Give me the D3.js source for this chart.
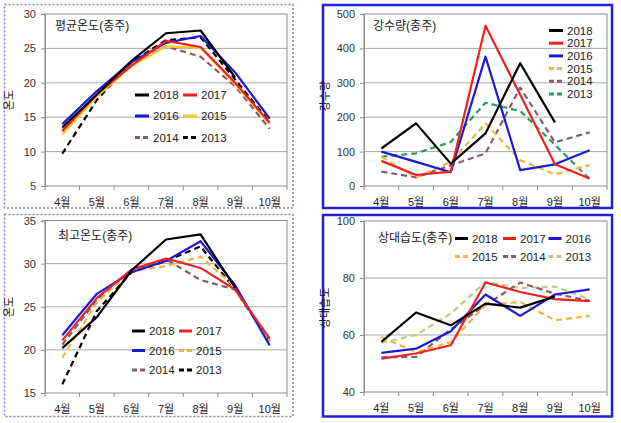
<!DOCTYPE html>
<html><head><meta charset="utf-8">
<script src="https://cdn.jsdelivr.net/npm/d3@7"></script>
<style>
body{margin:0;background:#fff;}
text{font-family:"Liberation Sans","Noto Sans CJK KR",sans-serif;}
</style></head>
<body><svg id="c" width="621" height="423"></svg>
<script>
const months = ["4월","5월","6월","7월","8월","9월","10월"];
const years = ["2018","2017","2016","2015","2014","2013"];

// 평균온도 (avg temperature), series in years order
const avgTemp = [
  [13.5, 18.3, 23.2, 27.2, 27.6, 20.8, null],
  [13.0, 18.3, 22.5, 26.1, 25.2, 20.0, 14.2],
  [14.0, 18.8, 23.0, 25.8, 26.8, 21.5, 14.8],
  [12.5, 18.0, 22.4, 25.3, 25.1, 19.8, 14.0],
  [13.0, 18.0, 22.8, 25.3, 23.8, 19.5, 13.3],
  [ 9.7, 17.5, 23.0, 26.2, 26.6, 20.5, 14.3]
];
// 강수량 (precipitation)
const precip = [
  [109, 182,  65, 153, 357, 185, null],
  [ 73,  32,  42, 466, 265,  63,  22],
  [100,  70,  40, 376,  46,  63, 104],
  [ 85,  25,  70, 182,  75,  34,  61],
  [ 42,  25,  60,  95, 286, 127, 156],
  [ 85,  95, 128, 242, 218, 120,  20]
];
// 최고온도 (max temperature)
const maxTemp = [
  [20.2, 23.8, 29.2, 32.8, 33.4, 27.2, null],
  [21.1, 26.0, 29.3, 30.6, 29.5, 27.0, 21.3],
  [21.7, 26.5, 29.0, 30.3, 32.6, 27.5, 20.5],
  [19.1, 25.5, 29.2, 29.7, 30.8, 27.3, 21.0],
  [20.6, 25.8, 29.0, 30.5, 28.1, 27.0, 21.2],
  [16.0, 24.5, 29.0, 30.3, 32.0, 27.0, 21.0]
];
// 상대습도 (relative humidity)
const humidity = [
  [57.6, 67.9, 63.4, 71.0, 69.6, 73.5, null],
  [51.7, 53.5, 56.4, 78.4, 75.1, 72.6, 71.9],
  [53.7, 55.2, 61.3, 74.2, 66.7, 74.2, 76.0],
  [59.3, 54.0, 57.5, 70.5, 71.6, 65.2, 66.7],
  [52.2, 52.3, 62.0, 70.5, 78.4, 74.5, 72.0],
  [57.3, 60.0, 67.5, 78.6, 76.5, 77.0, 72.5]
];

const tempTicks1 = [5,10,15,20,25,30];
const precipTicks = [0,100,200,300,400,500];
const tempTicks2 = [15,20,25,30,35];
const humTicks = [40,60,80,100];

const svg = d3.select("#c");

function styleFor(yearIdx, variant){
  const base = [
    {c:"#000000", d:null},
    {c:"#ee2020", d:null},
    {c:"#1a1ad0", d:null},
    {c:"#f2b640", d:"6,4"},
    {c:"#8a5a68", d:"6,4"},
    {c:"#000000", d:"6,4"}
  ][yearIdx];
  const s = Object.assign({}, base);
  if (yearIdx === 5 && variant === "precip") s.c = "#2a9a5a";
  if (yearIdx === 5 && variant === "hum") s.c = "#b9cc88";
  if (yearIdx === 3 && variant === "avg") { s.c = "#f2cc2a"; s.d = null; }
  return s;
}

function panel(o){
  const g = svg.append("g");
  g.append("rect").attr("x", o.bx).attr("y", o.by).attr("width", o.bw).attr("height", o.bh)
    .attr("fill", "none").attr("stroke", o.borderColor).attr("stroke-width", o.borderW)
    .attr("stroke-dasharray", o.borderDash);
  const x = d3.scaleBand().domain(months).range([o.x0, o.x1]);
  const y = d3.scaleLinear().domain(o.domain).range([o.y1, o.y0]);
  g.append("g").selectAll("line").data(o.ticks.slice(1, -1)).join("line")
    .attr("x1", o.x0).attr("x2", o.x1).attr("y1", d => y(d)).attr("y2", d => y(d))
    .attr("stroke", "#a8a8a8").attr("stroke-width", 1);
  g.append("rect").attr("x", o.x0).attr("y", o.y0).attr("width", o.x1 - o.x0).attr("height", o.y1 - o.y0)
    .attr("fill", "none").attr("stroke", "#8c8c8c").attr("stroke-width", 1);
  const ya = g.append("g").attr("transform", `translate(${o.x0},0)`)
    .call(d3.axisLeft(y).tickValues(o.ticks).tickSize(4).tickPadding(5));
  ya.select(".domain").attr("stroke", "#8c8c8c");
  ya.selectAll(".tick line").attr("stroke", "#8c8c8c");
  ya.selectAll("text").attr("font-size", 11).attr("fill", "#333");
  const bTicks = months.map(m => x(m)).concat([o.x1]);
  g.append("g").selectAll("line").data(bTicks).join("line")
    .attr("x1", d => d).attr("x2", d => d).attr("y1", o.y1).attr("y2", o.y1 + 4)
    .attr("stroke", "#8c8c8c");
  g.append("g").selectAll("text").data(months).join("text")
    .attr("x", d => x(d) + x.bandwidth() / 2).attr("y", o.y1 + 20)
    .attr("text-anchor", "middle").attr("font-size", 11).attr("fill", "#222").text(d => d);
  g.append("text").attr("transform", `translate(${o.ytx},${o.yty}) rotate(-90)`)
    .attr("text-anchor", "middle").attr("font-size", 11).attr("fill", "#111").text(o.ytitle);
  g.append("text").attr("x", o.tx).attr("y", o.ty).attr("font-size", 12).attr("fill", "#222").text(o.title);
  const line = d3.line().defined(d => d.v != null)
    .x(d => x(d.m) + x.bandwidth() / 2).y(d => y(d.v));
  for (let i = years.length - 1; i >= 0; i--) {
    const s = styleFor(i, o.variant);
    const pts = months.map((m, j) => ({m, v: o.data[i][j]}));
    g.append("path").datum(pts).attr("d", line).attr("fill", "none")
      .attr("stroke", s.c).attr("stroke-width", 2.2).attr("stroke-dasharray", s.d)
      .attr("stroke-linejoin", "round");
  }
  years.forEach((yr, i) => {
    const p = o.legendPos(i);
    const s = styleFor(i, o.variant);
    g.append("line").attr("x1", p[0]).attr("x2", p[0] + o.legLen).attr("y1", p[1]).attr("y2", p[1])
      .attr("stroke", s.c).attr("stroke-width", 3).attr("stroke-dasharray", s.d ? "5,3" : null);
    g.append("text").attr("x", p[0] + o.legLen + 4).attr("y", p[1] + 4)
      .attr("font-size", 11.5).attr("fill", "#222").text(yr);
  });
}

panel({
  bx: 4.5, by: 4.5, bw: 288.5, bh: 203.5, borderColor: "#7f7fc8", borderW: 1.5, borderDash: "2,2",
  x0: 45, x1: 287, y0: 14, y1: 186, domain: [5, 30], ticks: tempTicks1,
  data: avgTemp, variant: "avg", title: "평균온도(충주)", tx: 55, ty: 30,
  ytitle: "온도", ytx: 13, yty: 100, legLen: 14,
  legendPos: i => [[135, 95], [183, 95], [135, 116], [183, 116], [135, 137.5], [183, 137.5]][i]
});
panel({
  bx: 323, by: 5, bw: 289, bh: 203, borderColor: "#2222dd", borderW: 2.5, borderDash: null,
  x0: 364, x1: 607, y0: 14, y1: 186, domain: [0, 500], ticks: precipTicks,
  data: precip, variant: "precip", title: "강수량(충주)", tx: 373, ty: 30,
  ytitle: "강수량", ytx: 329, yty: 96, legLen: 14,
  legendPos: i => [549, 30.5 + i * 12.7]
});
panel({
  bx: 4.5, by: 214.5, bw: 288.5, bh: 202, borderColor: "#7f7fc8", borderW: 1.5, borderDash: "2,2",
  x0: 45, x1: 287, y0: 220.5, y1: 393, domain: [15, 35], ticks: tempTicks2,
  data: maxTemp, variant: "max", title: "최고온도(충주)", tx: 58, ty: 240,
  ytitle: "온도", ytx: 13, yty: 307, legLen: 13,
  legendPos: i => [[132, 331], [179, 331], [132, 350.5], [179, 350.5], [132, 370], [179, 370]][i]
});
panel({
  bx: 323, by: 215, bw: 289, bh: 201.5, borderColor: "#2222dd", borderW: 2.5, borderDash: null,
  x0: 364, x1: 607, y0: 221, y1: 392, domain: [40, 100], ticks: humTicks,
  data: humidity, variant: "hum", title: "상대습도(충주)", tx: 378, ty: 242,
  ytitle: "상대습도", ytx: 329, yty: 308, legLen: 13,
  legendPos: i => [[455, 238.5], [503, 238.5], [548.5, 238.5], [455, 256.5], [503, 256.5], [548.5, 256.5]][i]
});
</script></body></html>
